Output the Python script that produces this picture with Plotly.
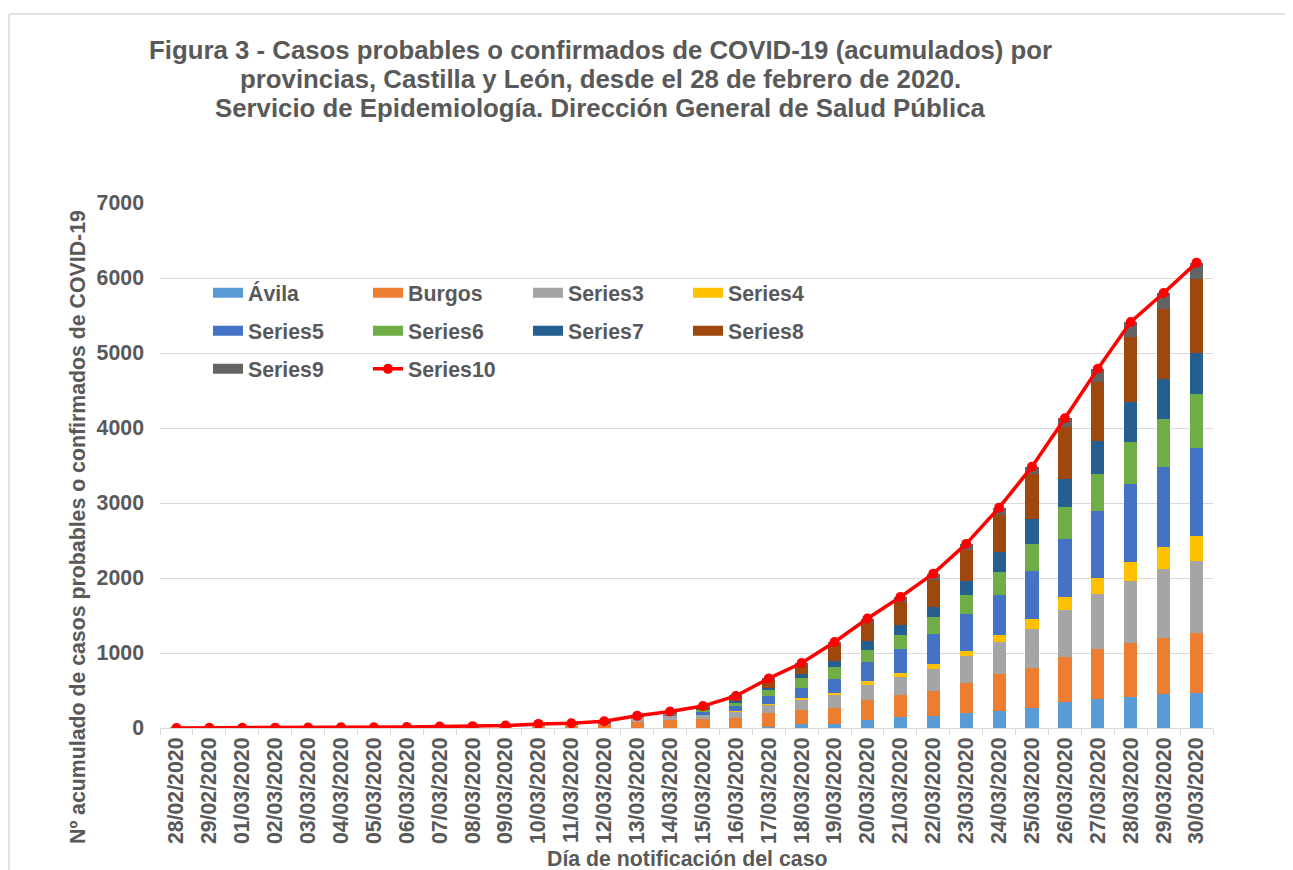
import plotly.graph_objects as go

dates = ["28/02/2020", "29/02/2020", "01/03/2020", "02/03/2020", "03/03/2020", "04/03/2020",
         "05/03/2020", "06/03/2020", "07/03/2020", "08/03/2020", "09/03/2020", "10/03/2020",
         "11/03/2020", "12/03/2020", "13/03/2020", "14/03/2020", "15/03/2020", "16/03/2020",
         "17/03/2020", "18/03/2020", "19/03/2020", "20/03/2020", "21/03/2020", "22/03/2020",
         "23/03/2020", "24/03/2020", "25/03/2020", "26/03/2020", "27/03/2020", "28/03/2020",
         "29/03/2020", "30/03/2020"]

avila = [0, 0, 0, 0, 0, 0, 0, 0, 0, 0, 0, 0, 0, 0, 0, 0, 0, 0, 18, 50, 58, 107, 147, 156,
         200, 227, 271, 342, 382, 413, 449, 467]
burgos = [0, 0, 0, 1, 2, 3, 4, 5, 8, 10, 14, 24, 30, 55, 81, 112, 117, 130, 180, 190, 209,
          271, 297, 337, 396, 489, 533, 605, 671, 720, 747, 800]
series3 = [0, 0, 0, 1, 1, 1, 1, 1, 2, 3, 4, 8, 9, 10, 53, 53, 59, 96, 112, 142, 177, 200,
           232, 294, 360, 431, 516, 631, 729, 823, 920, 960]
series4 = [0, 0, 0, 0, 0, 0, 0, 0, 0, 0, 0, 1, 1, 1, 2, 2, 3, 4, 8, 18, 18, 44, 57, 62, 75,
           97, 138, 173, 222, 262, 293, 329]
series5 = [0, 0, 0, 0, 0, 0, 1, 1, 2, 2, 3, 5, 6, 6, 7, 15, 35, 65, 115, 138, 196, 262, 320,
           404, 485, 529, 631, 769, 885, 1035, 1075, 1177]
series6 = [1, 1, 1, 1, 1, 2, 2, 2, 3, 4, 5, 7, 7, 7, 8, 15, 35, 40, 70, 124, 155, 160, 191,
           231, 262, 303, 364, 431, 502, 565, 636, 725]
series7 = [0, 0, 0, 0, 0, 0, 0, 0, 0, 0, 0, 1, 1, 1, 1, 3, 8, 24, 30, 58, 85, 116, 125, 134,
           178, 266, 334, 369, 436, 524, 538, 542]
series8 = [0, 1, 1, 2, 3, 3, 3, 4, 5, 6, 7, 8, 9, 9, 9, 18, 30, 60, 100, 102, 204, 244, 307,
           360, 413, 498, 595, 693, 791, 871, 929, 991]
series9 = [0, 0, 0, 0, 0, 0, 0, 0, 0, 0, 0, 1, 1, 1, 1, 2, 5, 8, 28, 45, 45, 56, 71, 80, 86,
           98, 103, 117, 173, 200, 213, 214]
series10 = [1, 2, 2, 5, 7, 9, 11, 13, 20, 25, 33, 55, 64, 90, 162, 220, 292, 427, 661, 867,
            1147, 1460, 1747, 2058, 2455, 2938, 3485, 4130, 4791, 5413, 5800, 6205]

bar_names = ["Ávila", "Burgos", "Series3", "Series4", "Series5", "Series6", "Series7",
             "Series8", "Series9"]
bar_values = [avila, burgos, series3, series4, series5, series6, series7, series8, series9]
bar_colors = ["#5B9BD5", "#ED7D31", "#A5A5A5", "#FFC000", "#4472C4", "#70AD47", "#255E91",
              "#9E480E", "#636363"]
legend_of = ["legend", "legend", "legend", "legend", "legend2", "legend2", "legend2",
             "legend2", "legend3"]

title_lines = ["Figura 3 - Casos probables o confirmados de COVID-19 (acumulados) por",
               "provincias, Castilla y León, desde el 28 de febrero de 2020.",
               "Servicio de Epidemiología. Dirección General de Salud Pública"]
y_title = "Nº acumulado de casos probables o confirmados de COVID-19"
x_title = "Día de notificación del caso"

FONT = "Liberation Sans, Arial, sans-serif"
TXT = "#595959"
GRID = "#D9D9D9"
FS = 21.3

fig = go.Figure()
for name, vals, col, lg in zip(bar_names, bar_values, bar_colors, legend_of):
    fig.add_trace(go.Bar(x=dates, y=vals, name=name, marker=dict(color=col, line=dict(width=0)),
                         showlegend=False))
    # legend entry drawn as a wide rectangular swatch (Excel style)
    fig.add_trace(go.Scatter(x=[None], y=[None], name=name, mode="lines",
                             line=dict(color=col, width=10), legend=lg, hoverinfo="skip"))
fig.add_trace(go.Scatter(x=dates, y=series10, name="Series10", mode="lines+markers",
                         line=dict(color="#FF0000", width=3.5),
                         marker=dict(color="#FF0000", size=10), legend="legend3"))

# page has an 8px body margin, so the figure is 8px smaller than the window
W, H = 1285, 862
L, R, T, B = 152, 80, 195, 142
pw, ph = W - L - R, H - T - B


def px_x(p):  # page pixel -> paper x
    return (p - 8 - L) / pw


def px_y(p):  # page pixel -> paper y
    return (H - B - (p - 8)) / ph


legend_common = dict(orientation="h", entrywidth=115, entrywidthmode="pixels",
                     font=dict(family=FONT, size=FS, color=TXT, weight="bold"),
                     bgcolor="rgba(0,0,0,0)", xanchor="left", yanchor="middle",
                     x=px_x(208), traceorder="normal", itemwidth=30)

fig.update_layout(
    width=W, height=H,
    margin=dict(l=L, r=R, t=T, b=B),
    paper_bgcolor="white", plot_bgcolor="white",
    barmode="stack", bargap=0.6,
    font=dict(family=FONT, color=TXT),
    legend=dict(legend_common, y=px_y(293)),
    legend2=dict(legend_common, y=px_y(331)),
    legend3=dict(legend_common, y=px_y(369)),
    xaxis=dict(type="category", range=[-0.5, len(dates) - 0.5], tickangle=-90,
               showgrid=False, showline=True,
               linecolor=GRID, linewidth=1, ticks="outside", tickson="boundaries",
               ticklen=6, tickcolor=GRID,
               tickfont=dict(family=FONT, size=FS, color=TXT, weight="bold")),
    yaxis=dict(range=[0, 7000], dtick=1000, showgrid=True, gridcolor=GRID, gridwidth=1,
               zeroline=False, showline=False, ticks="", ticklabelstandoff=15,
               tickfont=dict(family=FONT, size=FS, color=TXT, weight="bold")),
    showlegend=True,
)

for line, yc in zip(title_lines, [50, 79, 108]):
    fig.add_annotation(text=line, xref="paper", yref="paper", x=px_x(600), y=px_y(yc),
                       xanchor="center", yanchor="middle", showarrow=False,
                       font=dict(family=FONT, size=25.8, color=TXT, weight="bold"))
fig.add_annotation(text=y_title, xref="paper", yref="paper", x=px_x(78), y=px_y(527),
                   xanchor="center", yanchor="middle", textangle=-90, showarrow=False,
                   font=dict(family=FONT, size=FS, color=TXT, weight="bold"))
fig.add_annotation(text=x_title, xref="paper", yref="paper", x=px_x(687), y=px_y(859),
                   xanchor="center", yanchor="middle", showarrow=False,
                   font=dict(family=FONT, size=FS, color=TXT, weight="bold"))

# outer chart-area frame (top and left edges visible in the reference)
fig.add_shape(type="line", xref="paper", yref="paper", x0=px_x(9), x1=px_x(1300),
              y0=px_y(14), y1=px_y(14), line=dict(color=GRID, width=1.5))
fig.add_shape(type="line", xref="paper", yref="paper", x0=px_x(9), x1=px_x(9),
              y0=px_y(14), y1=px_y(880), line=dict(color=GRID, width=1.5))

fig.write_html("out.html")
